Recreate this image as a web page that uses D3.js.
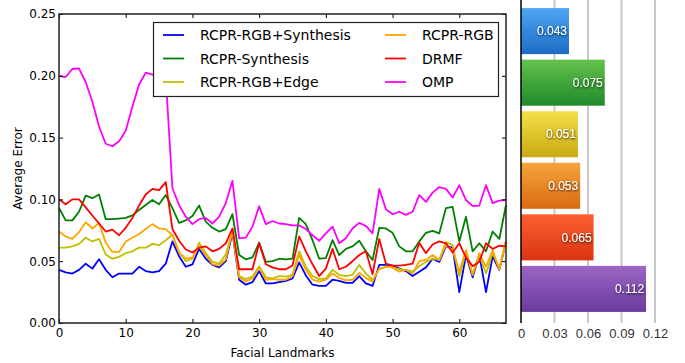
<!DOCTYPE html>
<html>
<head>
<meta charset="utf-8">
<script src="https://cdn.jsdelivr.net/npm/d3@7"></script>
<style>
  body { margin: 0; background: #fff; }
  svg { display: block; }
</style>
</head>
<body>
<div id="chart"></div>
<script>
// series, in legend order
const seriesNames = ["RCPR-RGB+Synthesis", "RCPR-Synthesis", "RCPR-RGB+Edge", "RCPR-RGB", "DRMF", "OMP"];
const lineColors = ["#0000ff", "#008000", "#bfbf00", "#ffa500", "#ff0000", "#ff00ff"];

const rcprRgbSynthesis = [
    0.043, 0.041, 0.040, 0.043, 0.048, 0.044, 0.0515, 0.043, 0.037, 0.040,
    0.040, 0.040, 0.0455, 0.042, 0.041, 0.042, 0.048, 0.066, 0.054, 0.0455,
    0.0475, 0.060, 0.052, 0.047, 0.045, 0.050, 0.073, 0.035, 0.031, 0.033,
    0.042, 0.032, 0.032, 0.033, 0.034, 0.036, 0.049, 0.0385, 0.031, 0.030,
    0.030, 0.035, 0.034, 0.0325, 0.0325, 0.038, 0.032, 0.030, 0.047, 0.047,
    0.0465, 0.044, 0.042, 0.038, 0.0415, 0.045, 0.052, 0.0495, 0.062, 0.061,
    0.025, 0.055, 0.037, 0.055, 0.025, 0.054, 0.043, 0.066
];
const rcprSynthesis = [
    0.093, 0.083, 0.083, 0.090, 0.103, 0.101, 0.104, 0.084, 0.084, 0.0845,
    0.085, 0.087, 0.0915, 0.0955, 0.0995, 0.096, 0.1035, 0.093, 0.081, 0.083,
    0.0865, 0.095, 0.082, 0.077, 0.074, 0.076, 0.088, 0.055, 0.0515, 0.053,
    0.065, 0.0495, 0.050, 0.052, 0.0515, 0.052, 0.085, 0.080, 0.067, 0.052,
    0.0525, 0.067, 0.055, 0.060, 0.062, 0.0665, 0.058, 0.051, 0.077, 0.0765,
    0.073, 0.062, 0.058, 0.058, 0.066, 0.073, 0.0745, 0.0725, 0.093, 0.094,
    0.066, 0.086, 0.058, 0.0645, 0.058, 0.074, 0.068, 0.0955
];
const rcprRgbEdge = [
    0.061, 0.061, 0.062, 0.064, 0.069, 0.066, 0.068, 0.0555, 0.052, 0.0535,
    0.0565, 0.058, 0.061, 0.061, 0.064, 0.063, 0.067, 0.0715, 0.0575, 0.050,
    0.052, 0.065, 0.0565, 0.0495, 0.048, 0.0555, 0.074, 0.038, 0.0355, 0.0375,
    0.046, 0.037, 0.036, 0.038, 0.0375, 0.039, 0.058, 0.0455, 0.038, 0.0355,
    0.036, 0.043, 0.039, 0.038, 0.039, 0.047, 0.040, 0.035, 0.0435, 0.0455,
    0.045, 0.0435, 0.043, 0.0415, 0.046, 0.0495, 0.052, 0.051, 0.0655, 0.063,
    0.0375, 0.0575, 0.039, 0.055, 0.040, 0.0565, 0.044, 0.065
];
const rcprRgb = [
    0.074, 0.070, 0.068, 0.0735, 0.0815, 0.0765, 0.081, 0.065, 0.0575, 0.0575,
    0.066, 0.069, 0.072, 0.076, 0.080, 0.0765, 0.076, 0.071, 0.057, 0.052,
    0.053, 0.062, 0.055, 0.0475, 0.0465, 0.0515, 0.075, 0.037, 0.0335, 0.036,
    0.045, 0.035, 0.0355, 0.035, 0.035, 0.038, 0.055, 0.043, 0.035, 0.0335,
    0.035, 0.040, 0.0365, 0.0345, 0.035, 0.0405, 0.0365, 0.0335, 0.044, 0.0455,
    0.045, 0.0415, 0.043, 0.040, 0.050, 0.051, 0.055, 0.051, 0.063, 0.059,
    0.0415, 0.059, 0.039, 0.0565, 0.0455, 0.059, 0.0435, 0.067
];
const drmf = [
    0.100, 0.096, 0.100, 0.100, 0.0935, 0.087, 0.0805, 0.074, 0.0755, 0.071,
    0.077, 0.085, 0.095, 0.104, 0.1085, 0.1075, 0.114, 0.076, 0.0665, 0.0595,
    0.057, 0.061, 0.062, 0.058, 0.060, 0.0645, 0.0765, 0.0435, 0.0435, 0.0435,
    0.0645, 0.0475, 0.045, 0.0435, 0.0435, 0.0465, 0.070, 0.058, 0.0475, 0.038,
    0.044, 0.060, 0.0435, 0.0455, 0.050, 0.055, 0.058, 0.0395, 0.068, 0.048,
    0.0465, 0.0465, 0.047, 0.048, 0.065, 0.0565, 0.0635, 0.066, 0.0645, 0.057,
    0.0645, 0.053, 0.046, 0.0495, 0.0645, 0.060, 0.0625, 0.062
];
const omp = [
    0.200, 0.199, 0.2055, 0.206, 0.195, 0.179, 0.159, 0.145, 0.143, 0.147,
    0.1555, 0.175, 0.193, 0.2025, 0.201, 0.199, 0.199, 0.109, 0.0955, 0.086,
    0.080, 0.084, 0.085, 0.0805, 0.086, 0.097, 0.115, 0.0685, 0.069, 0.078,
    0.0945, 0.080, 0.0825, 0.0805, 0.080, 0.079, 0.079, 0.076, 0.071, 0.0665,
    0.0725, 0.078, 0.0645, 0.0685, 0.0765, 0.081, 0.0785, 0.0725, 0.1085, 0.092,
    0.088, 0.090, 0.0875, 0.090, 0.1035, 0.098, 0.1055, 0.110, 0.1085, 0.1015,
    0.1115, 0.0995, 0.0945, 0.095, 0.1115, 0.097, 0.099, 0.0995
];
const allSeries = [rcprRgbSynthesis, rcprSynthesis, rcprRgbEdge, rcprRgb, drmf, omp];

// averages shown in the bar panel
const meanErrors = [0.043, 0.075, 0.051, 0.053, 0.065, 0.112];
const barTop = ["#4ea6f2", "#64c24a", "#f4e04a", "#f6a43a", "#ff6030", "#9c66c4"];
const barBottom = ["#1c6cc6", "#1f8a2c", "#c8aa12", "#d96a12", "#d83412", "#6a3a9e"];

const xTicks = [0, 10, 20, 30, 40, 50, 60];
const yTicks = [0, 0.05, 0.10, 0.15, 0.20, 0.25];
const barTicks = [0, 0.03, 0.06, 0.09, 0.12];

const W = 685, H = 363;
const plot = {left: 59, right: 506, top: 14, bottom: 323};

const svg = d3.select("#chart").append("svg")
    .attr("width", W)
    .attr("height", H)
    .style("font-family", "'DejaVu Sans', sans-serif");

const x = d3.scaleLinear().domain([0, 67]).range([plot.left, plot.right]);
const y = d3.scaleLinear().domain([0, 0.25]).range([plot.bottom, plot.top]);

// lines
const line = d3.line().x((d, i) => x(i)).y(d => y(d));
svg.append("g")
    .selectAll("path")
    .data(allSeries)
    .join("path")
    .attr("fill", "none")
    .attr("stroke", (d, i) => lineColors[i])
    .attr("stroke-width", 1.8)
    .attr("stroke-linejoin", "round")
    .attr("d", line);

// axes, ticks pointing inwards like matplotlib
function styleAxis(g) {
    g.select(".domain").remove();
    g.selectAll(".tick line").attr("stroke", "#000").attr("stroke-width", 1);
    g.selectAll(".tick text").attr("fill", "#000").style("font-size", "12px")
        .style("font-family", "'DejaVu Sans', sans-serif");
}

svg.append("g")
    .attr("transform", `translate(0,${plot.bottom})`)
    .call(d3.axisBottom(x).tickValues(xTicks).tickSizeInner(-4).tickSizeOuter(0).tickPadding(5))
    .call(styleAxis);
svg.append("g")
    .attr("transform", `translate(0,${plot.top})`)
    .call(d3.axisTop(x).tickValues(xTicks).tickSizeInner(-4).tickSizeOuter(0).tickFormat(""))
    .call(styleAxis);
svg.append("g")
    .attr("transform", `translate(${plot.left},0)`)
    .call(d3.axisLeft(y).tickValues(yTicks).tickSizeInner(-4).tickSizeOuter(0).tickPadding(3)
        .tickFormat(d3.format(".2f")))
    .call(styleAxis);
svg.append("g")
    .attr("transform", `translate(${plot.right},0)`)
    .call(d3.axisRight(y).tickValues(yTicks).tickSizeInner(-4).tickSizeOuter(0).tickFormat(""))
    .call(styleAxis);

svg.append("rect")
    .attr("x", plot.left)
    .attr("y", plot.top)
    .attr("width", plot.right - plot.left)
    .attr("height", plot.bottom - plot.top)
    .attr("fill", "none")
    .attr("stroke", "#222")
    .attr("stroke-width", 1.5);

svg.append("text")
    .attr("x", (plot.left + plot.right) / 2)
    .attr("y", 357)
    .attr("text-anchor", "middle")
    .style("font-size", "12px")
    .text("Facial Landmarks");

svg.append("text")
    .attr("transform", `translate(22,${(plot.top + plot.bottom) / 2}) rotate(-90)`)
    .attr("text-anchor", "middle")
    .style("font-size", "12px")
    .text("Average Error");

// legend (two columns, filled column-wise)
const legend = svg.append("g");
legend.append("rect")
    .attr("x", 153.5)
    .attr("y", 22.5)
    .attr("width", 345)
    .attr("height", 74)
    .attr("fill", "#fff")
    .attr("stroke", "#222")
    .attr("stroke-width", 1.2);

const legendItems = legend.selectAll("g.item")
    .data(seriesNames)
    .join("g")
    .attr("class", "item")
    .attr("transform", (d, i) => `translate(${i < 3 ? 163 : 385},${35 + (i % 3) * 23.5})`);
legendItems.append("line")
    .attr("x1", 0).attr("x2", 21)
    .attr("stroke", (d, i) => lineColors[i])
    .attr("stroke-width", 1.8);
legendItems.append("text")
    .attr("x", 37)
    .attr("dy", "0.36em")
    .style("font-size", "14px")
    .text(d => d);

// bar panel
const bx = d3.scaleLinear().domain([0, 0.12]).range([521, 655]);
const by = d3.scaleBand().domain(d3.range(meanErrors.length)).range([5.5, 314.5])
    .paddingInner(0.107).paddingOuter(0.05);

const defs = svg.append("defs");
meanErrors.forEach((v, i) => {
    const grad = defs.append("linearGradient")
        .attr("id", "bar-grad-" + i)
        .attr("x1", 0).attr("y1", 0).attr("x2", 0).attr("y2", 1);
    grad.append("stop").attr("offset", "0%").attr("stop-color", barTop[i]);
    grad.append("stop").attr("offset", "100%").attr("stop-color", barBottom[i]);
});
const shadow = defs.append("filter").attr("id", "txt-shadow")
    .attr("x", "-20%").attr("y", "-40%").attr("width", "140%").attr("height", "180%");
shadow.append("feDropShadow")
    .attr("dx", 0.5).attr("dy", 1).attr("stdDeviation", 0.8)
    .attr("flood-color", "#000").attr("flood-opacity", 0.85);

svg.append("g")
    .selectAll("line")
    .data(barTicks.slice(1))
    .join("line")
    .attr("x1", d => bx(d)).attr("x2", d => bx(d))
    .attr("y1", 0).attr("y2", 323)
    .attr("stroke", "#c8c8c8")
    .attr("stroke-width", 2);

svg.append("g")
    .selectAll("rect")
    .data(meanErrors)
    .join("rect")
    .attr("x", bx(0))
    .attr("y", (d, i) => by(i))
    .attr("width", d => bx(d) - bx(0))
    .attr("height", by.bandwidth())
    .attr("fill", (d, i) => `url(#bar-grad-${i})`);

svg.append("g")
    .selectAll("text")
    .data(meanErrors)
    .join("text")
    .attr("x", d => bx(d) - 2)
    .attr("y", (d, i) => by(i) + by.bandwidth() / 2)
    .attr("dy", "0.35em")
    .attr("text-anchor", "end")
    .attr("fill", "#fff")
    .attr("filter", "url(#txt-shadow)")
    .style("font-family", "'Liberation Sans', Arial, sans-serif")
    .style("font-size", "12px")
    .text(d => d3.format(".3f")(d));

svg.append("line")
    .attr("x1", bx(0)).attr("x2", bx(0))
    .attr("y1", 0).attr("y2", 323)
    .attr("stroke", "#000")
    .attr("stroke-width", 1.5);

svg.append("g")
    .attr("transform", "translate(0,329)")
    .call(d3.axisBottom(bx).tickValues(barTicks).tickSize(0).tickPadding(0)
        .tickFormat(d => d === 0 ? "0" : d3.format(".2f")(d)))
    .call(g => g.select(".domain").remove())
    .call(g => g.selectAll(".tick text")
        .attr("fill", "#333")
        .style("font-family", "'Liberation Sans', Arial, sans-serif")
        .style("font-size", "13px"));
</script>
</body>
</html>
